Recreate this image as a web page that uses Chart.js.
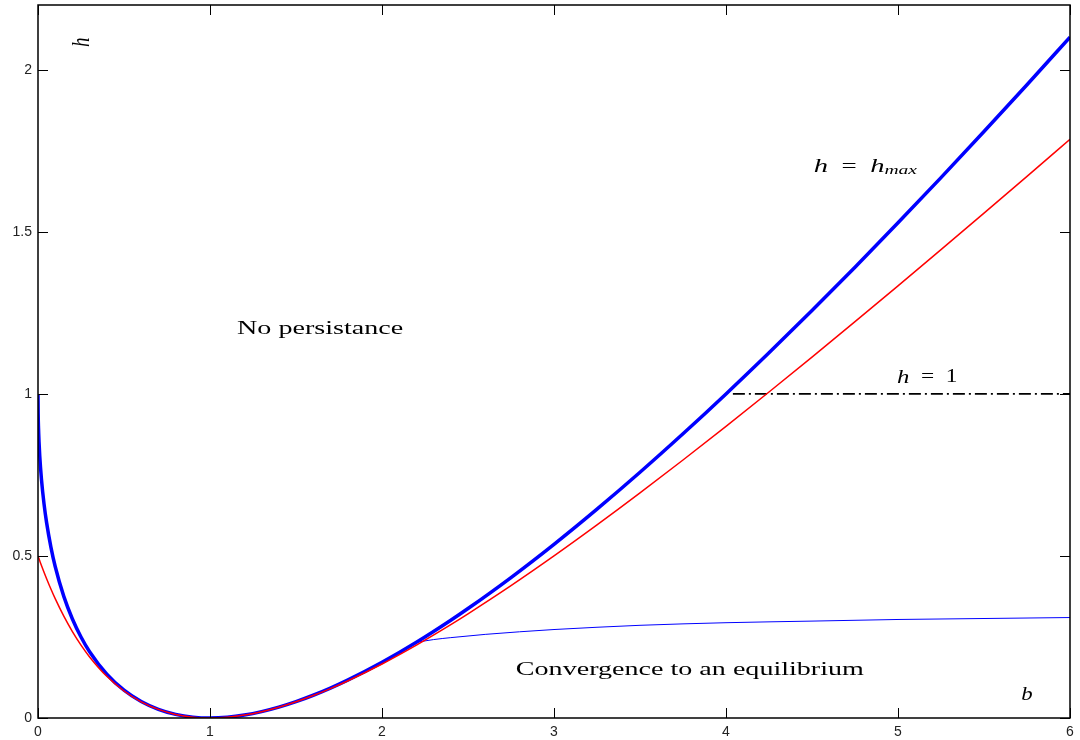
<!DOCTYPE html>
<html>
<head>
<meta charset="utf-8">
<script src="https://cdn.jsdelivr.net/npm/chart.js@4.4.0/dist/chart.umd.min.js"></script>
<style>
  html, body { margin: 0; padding: 0; background: #fff; }
  #wrap { width: 1080px; height: 740px; position: relative; }
</style>
</head>
<body>
<div id="wrap"><canvas id="chart"></canvas></div>
<script>
// b values shared by the two main curves
const bGrid = [0, 0.001, 0.003, 0.006, 0.01, 0.02, 0.035, 0.05, 0.075, 0.1, 0.15, 0.2, 0.25, 0.3, 0.4, 0.5,
  0.6, 0.7, 0.8, 0.9, 1, 1.1, 1.2, 1.3, 1.4, 1.5, 1.6, 1.7, 1.8, 2, 2.2, 2.4, 2.5, 2.75, 3, 3.25, 3.5,
  3.75, 4, 4.25, 4.5, 4.75, 5, 5.25, 5.5, 5.75, 6];
// thick blue, h = h_max
const hMax = [1, 0.9377, 0.8936, 0.8514, 0.81, 0.7372, 0.6608, 0.6028, 0.5273, 0.4675, 0.3754, 0.3056, 0.25,
  0.2046, 0.1351, 0.0858, 0.0508, 0.0267, 0.0111, 0.0026, 0, 0.0024, 0.0091, 0.0197, 0.0336, 0.0505, 0.0702,
  0.0923, 0.1167, 0.1716, 0.2335, 0.3016, 0.3377, 0.4334, 0.5359, 0.6445, 0.7583, 0.877, 1, 1.127, 1.2574,
  1.391, 1.5279, 1.6674, 1.8095, 1.9541, 2.101];
// red curve
const hRed = [0.5, 0.4985, 0.4955, 0.491, 0.4852, 0.4708, 0.4499, 0.4298, 0.398, 0.3682, 0.3141, 0.2667, 0.225,
  0.1885, 0.1286, 0.0833, 0.05, 0.0265, 0.0111, 0.0026, 0, 0.0024, 0.0091, 0.0196, 0.0333, 0.05, 0.0692,
  0.0907, 0.1143, 0.1667, 0.225, 0.2882, 0.3214, 0.4083, 0.5, 0.5956, 0.6944, 0.7961, 0.9, 1.006, 1.1136,
  1.2228, 1.3333, 1.445, 1.5577, 1.6713, 1.7857];
// thin blue branch (convergence boundary)
const bThin = [2.2, 2.3, 2.4, 2.6, 2.8, 3.0, 3.25, 3.5, 4, 4.5, 5, 5.5, 6];
const hThin = [0.2335, 0.242, 0.248, 0.258, 0.266, 0.273, 0.28, 0.286, 0.294, 0.299, 0.304, 0.307, 0.31];
// dash-dot h = 1 line
const bOne = [4.04, 6];
const hOne = [1, 1];

const xTicks = [0, 1, 2, 3, 4, 5, 6];
const yTicks = [0, 0.5, 1, 1.5, 2];

const toPts = (xs, ys) => xs.map((x, i) => ({ x: x, y: ys[i] }));

// inward ticks on all four sides plus the box
const frame = {
    id: 'frame',
    afterDraw(chart) {
        const { ctx, chartArea: a, scales: { x, y } } = chart;
        ctx.save();
        ctx.strokeStyle = '#000';
        ctx.lineWidth = 1;
        ctx.beginPath();
        xTicks.forEach(v => {
            const px = Math.round(x.getPixelForValue(v)) + 0.5;
            ctx.moveTo(px, a.bottom); ctx.lineTo(px, a.bottom - 10);
            ctx.moveTo(px, a.top); ctx.lineTo(px, a.top + 10);
        });
        yTicks.forEach(v => {
            const py = Math.round(y.getPixelForValue(v)) + 0.5;
            ctx.moveTo(a.left, py); ctx.lineTo(a.left + 10, py);
            ctx.moveTo(a.right, py); ctx.lineTo(a.right - 10, py);
        });
        ctx.stroke();
        ctx.lineWidth = 1.5;
        ctx.strokeRect(a.left, a.top, a.right - a.left, a.bottom - a.top);
        ctx.restore();
    }
};

// text labels inside the plot
const notes = {
    id: 'notes',
    afterDatasetsDraw(chart) {
        const { ctx, scales: { x, y } } = chart;
        const put = (parts, bx, hy, sx) => {
            // parts: [text, font, dy]
            ctx.save();
            let w = 0;
            parts.forEach(p => { ctx.font = p[1]; w += ctx.measureText(p[0]).width; });
            ctx.translate(x.getPixelForValue(bx), y.getPixelForValue(hy));
            ctx.scale(sx, 1);
            ctx.fillStyle = '#000';
            ctx.textBaseline = 'middle';
            let cx = -w / 2;
            parts.forEach(p => {
                ctx.font = p[1];
                ctx.fillText(p[0], cx, p[2] || 0);
                cx += ctx.measureText(p[0]).width;
            });
            ctx.restore();
        };
        const rm = '18px "Liberation Serif"';
        const it = 'italic 19px "Liberation Serif"';
        const sub = 'italic 13px "Liberation Serif"';
        const eq = '\u2002=\u2002';
        put([['No persistance', rm]], 1.64, 1.20, 1.56);
        put([['Convergence to an equilibrium', rm]], 3.79, 0.148, 1.56);
        put([['h', it], [eq, rm], ['h', it], ['max', sub, 4]], 4.81, 1.70, 1.5);
        put([['h', it], [eq + '1', rm]], 5.17, 1.05, 1.3);
        put([['b', it]], 5.75, 0.07, 1.2);

        // rotated axis letter
        ctx.save();
        ctx.translate(x.getPixelForValue(0.26), y.getPixelForValue(2.085));
        ctx.rotate(-Math.PI / 2);
        ctx.scale(1, 1.3);
        ctx.font = it;
        ctx.fillStyle = '#000';
        ctx.textAlign = 'center';
        ctx.textBaseline = 'middle';
        ctx.fillText('h', 0, 0);
        ctx.restore();
    }
};

const line = (data, color, width, order, extra) => Object.assign({
    data: data,
    borderColor: color,
    borderWidth: width,
    pointRadius: 0,
    fill: false,
    showLine: true,
    cubicInterpolationMode: 'monotone',
    order: order
}, extra || {});

const tickFont = { family: '"Liberation Sans"', size: 14 };

new Chart(document.getElementById('chart'), {
    type: 'scatter',
    data: {
        datasets: [
            line(toPts(bGrid, hRed), '#ff0000', 1.5, 0),
            line(toPts(bGrid, hMax), '#0000ff', 3.5, 1),
            line(toPts(bThin, hThin), '#0000ff', 1, 2),
            line(toPts(bOne, hOne), '#000000', 1.6, 3, { borderDash: [12, 4, 2, 4], cubicInterpolationMode: 'default', tension: 0 })
        ]
    },
    options: {
        responsive: true,
        maintainAspectRatio: false,
        animation: false,
        layout: { padding: { top: 5, right: 10, left: 0, bottom: 0 } },
        plugins: { legend: { display: false }, tooltip: { enabled: false } },
        scales: {
            x: {
                type: 'linear', min: 0, max: 6,
                grid: { drawOnChartArea: false, drawTicks: false },
                border: { display: false },
                afterFit: s => { s.height = 22; s.paddingLeft = 0; s.paddingRight = 0; },
                afterBuildTicks: s => { s.ticks = xTicks.map(v => ({ value: v })); },
                ticks: { padding: 6, color: '#222', font: tickFont, callback: v => String(v) }
            },
            y: {
                type: 'linear', min: 0, max: 2.2,
                grid: { drawOnChartArea: false, drawTicks: false },
                border: { display: false },
                afterFit: s => { s.width = 38; s.paddingTop = 0; s.paddingBottom = 0; },
                afterBuildTicks: s => { s.ticks = yTicks.map(v => ({ value: v })); },
                ticks: { padding: 6, color: '#222', font: tickFont, callback: v => String(v) }
            }
        }
    },
    plugins: [frame, notes]
});
</script>
</body>
</html>
